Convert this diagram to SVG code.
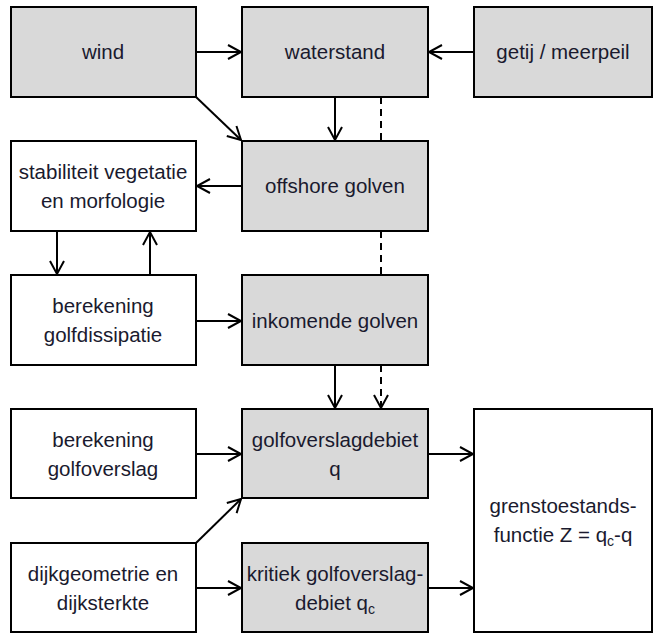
<svg xmlns="http://www.w3.org/2000/svg" width="654" height="633" viewBox="0 0 654 633">
<style>
.box{stroke:#000;stroke-width:2}
.g{fill:#d9d9d9}
.w{fill:#fff}
text{font-family:"Liberation Sans",Arial,sans-serif;font-size:20.5px;fill:#1a1a2e;text-anchor:middle}
.c{stroke:#000;stroke-width:2;fill:none}
.d{stroke-dasharray:7,5}
</style>
<defs>
<marker id="a" markerUnits="userSpaceOnUse" markerWidth="16" markerHeight="18" refX="14" refY="8" orient="auto" overflow="visible">
<path d="M1,1 L14,8 L1,15" fill="none" stroke="#000" stroke-width="2"/>
</marker>
</defs>
<rect width="654" height="633" fill="#fff"/>
<g id="wind"><rect class="box g" x="11" y="7" width="185" height="90"/><text x="103" y="59">wind</text></g>
<g id="waterstand"><rect class="box g" x="242" y="7" width="186" height="90"/><text x="335" y="59">waterstand</text></g>
<g id="getij"><rect class="box g" x="474" y="7" width="178" height="90"/><text x="563" y="59">getij / meerpeil</text></g>
<g id="stabiliteit"><rect class="box w" x="11" y="141" width="185" height="90"/><text x="103" y="179">stabiliteit vegetatie</text><text x="103" y="208">en morfologie</text></g>
<g id="offshore"><rect class="box g" x="242" y="141" width="186" height="90"/><text x="335" y="193">offshore golven</text></g>
<g id="dissipatie"><rect class="box w" x="11" y="275" width="185" height="90"/><text x="103" y="313">berekening</text><text x="103" y="342">golfdissipatie</text></g>
<g id="inkomende"><rect class="box g" x="242" y="275" width="186" height="90"/><text x="335" y="328">inkomende golven</text></g>
<g id="golfoverslag"><rect class="box w" x="11" y="409" width="185" height="89"/><text x="103" y="447">berekening</text><text x="103" y="476">golfoverslag</text></g>
<g id="debiet"><rect class="box g" x="242" y="409" width="186" height="89"/><text x="335" y="447">golfoverslagdebiet</text><text x="335" y="476">q</text></g>
<g id="dijk"><rect class="box w" x="11" y="543" width="185" height="89"/><text x="103" y="581">dijkgeometrie en</text><text x="103" y="610">dijksterkte</text></g>
<g id="kritiek"><rect class="box g" x="242" y="543" width="186" height="89"/><text x="335" y="581">kritiek golfoverslag-</text><text x="335" y="610">debiet q<tspan font-size="14" dy="4">c</tspan></text></g>
<g id="grens"><rect class="box w" x="474" y="409" width="178" height="223"/><text x="563" y="513">grenstoestands-</text><text x="563" y="542">functie Z = q<tspan font-size="14" dy="4">c</tspan><tspan dy="-4">-q</tspan></text></g>
<g id="connectors">
<line class="c" x1="196" y1="52" x2="241" y2="52" marker-end="url(#a)"/>
<line class="c" x1="474" y1="52" x2="429" y2="52" marker-end="url(#a)"/>
<line class="c" x1="196" y1="97" x2="241" y2="140" marker-end="url(#a)"/>
<line class="c" x1="335" y1="97" x2="335" y2="140" marker-end="url(#a)"/>
<line class="c d" x1="381" y1="97" x2="381" y2="141"/>
<line class="c" x1="242" y1="186" x2="197" y2="186" marker-end="url(#a)"/>
<line class="c" x1="57" y1="231" x2="57" y2="274" marker-end="url(#a)"/>
<line class="c" x1="150" y1="275" x2="150" y2="232" marker-end="url(#a)"/>
<line class="c d" x1="381" y1="231" x2="381" y2="275"/>
<line class="c" x1="196" y1="321" x2="241" y2="321" marker-end="url(#a)"/>
<line class="c" x1="335" y1="365" x2="335" y2="408" marker-end="url(#a)"/>
<line class="c d" x1="381" y1="365" x2="381" y2="408" marker-end="url(#a)"/>
<line class="c" x1="196" y1="454" x2="241" y2="454" marker-end="url(#a)"/>
<line class="c" x1="196" y1="543" x2="241" y2="499" marker-end="url(#a)"/>
<line class="c" x1="196" y1="588" x2="241" y2="588" marker-end="url(#a)"/>
<line class="c" x1="428" y1="454" x2="473" y2="454" marker-end="url(#a)"/>
<line class="c" x1="428" y1="588" x2="473" y2="588" marker-end="url(#a)"/>
</g>
</svg>
